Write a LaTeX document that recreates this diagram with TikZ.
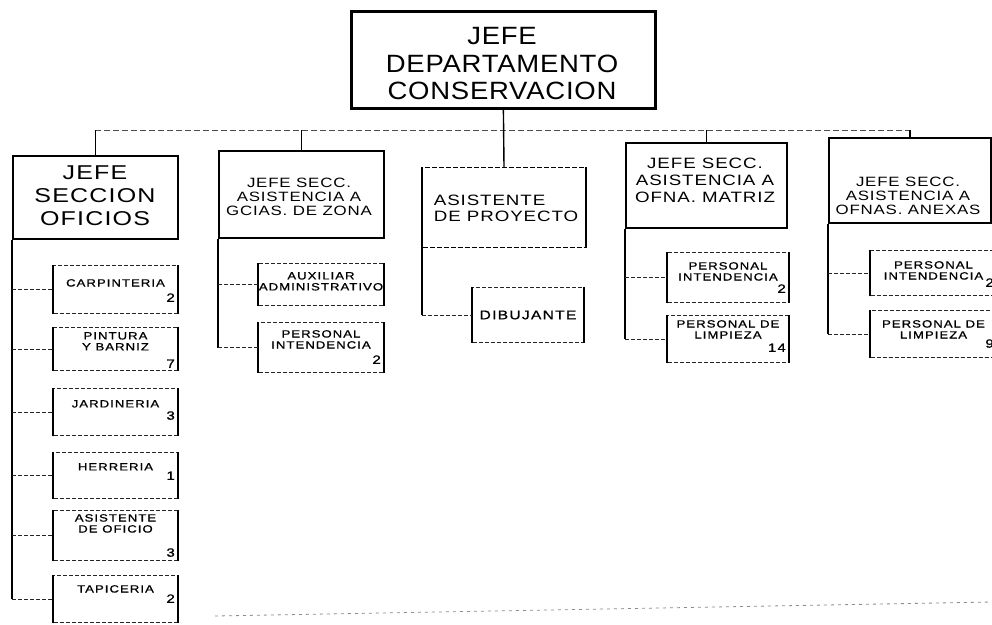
\documentclass[tikz,border=0pt]{standalone}
\usepackage{fontspec}
\usetikzlibrary{calc}
\newfontfamily\topf[FakeStretch=1.1,LetterSpace=3]{Liberation Sans}
\newfontfamily\wf[FakeStretch=1.25,LetterSpace=6]{Liberation Sans}
\newfontfamily\kf[FakeStretch=1.25,LetterSpace=10,FakeBold=1]{Liberation Sans}
\tikzset{
  bigbox/.style={draw=black, line width=#1, rectangle, inner sep=0pt, anchor=north west},
  thinbox/.style={draw=black, line width=1pt, dashed, dash pattern=on 5pt off 2pt, rectangle, inner sep=0pt, anchor=north west},
  kidbox/.style={draw=black!85, line width=1pt, dash pattern=on 4pt off 2pt, rectangle, inner sep=0pt, anchor=north west},
  kidside/.style={draw=black, line width=1.4pt},
  kidtext/.style={inner sep=0pt, align=center, anchor=north, font=\kf\fontsize{10.5}{11}\selectfont},
  kidnum/.style={inner sep=0pt, anchor=south east, font=\kf\fontsize{12}{12}\selectfont},
  spine/.style={draw=black, line width=1.4pt},
  kidlink/.style={draw=black!85, line width=1pt, dash pattern=on 4pt off 2pt},
  bus/.style={draw=black!70, line width=1pt, dash pattern=on 6pt off 3pt},
  drop/.style={draw=black, line width=1.4pt},
  faint/.style={draw=black!45, line width=0.8pt, dash pattern=on 3pt off 4pt},
}
% #1 name, #2 left, #3 top, #4 right, #5 bottom, #6 text, #7 text top offset, #8 number, #9 number bottom offset
\newcommand{\kid}[9]{%
  \node[kidbox, minimum width={#4-#2}, minimum height={#5-#3}] (#1) at (#2,#3) {};
  \draw[kidside] (#1.north west) -- (#1.south west) (#1.north east) -- (#1.south east);
  \node[kidtext] (#1t) at ($(#1.north)+(0,#7)$) {#6};
  \node[kidnum] (#1n) at ($(#1.north east)+(-3,#9)$) {#8};
}
\begin{document}
\begin{tikzpicture}[x=1pt,y=-1pt]
\useasboundingbox (0,0) rectangle (992,624);

% top-level boxes
\node[bigbox=2.8pt, minimum width=304pt, minimum height=97pt] (top) at (350,10) {};
\node[bigbox=1.6pt, minimum width=165pt, minimum height=83pt] (b1) at (12,155) {};
\node[bigbox=1.8pt, minimum width=165pt, minimum height=87pt] (b2) at (218,150) {};
\node[thinbox, minimum width=163pt, minimum height=80pt] (b3) at (422,167) {};
\node[bigbox=2.2pt, minimum width=161pt, minimum height=85pt] (b4) at (625,142) {};
\node[bigbox=1.8pt, minimum width=162pt, minimum height=85pt] (b5) at (828,137) {};
\draw[line width=1.5pt] (b3.north east) -- (b3.south east);
\draw[line width=1.5pt] (b3.north west) -- (b3.south west);

% titles
\node[inner sep=0pt, align=center, font=\topf\fontsize{25}{27.5}\selectfont] (topt) at (502,64) {JEFE\\DEPARTAMENTO\\CONSERVACION};
\node[inner sep=0pt, align=center, font=\wf\fontsize{20}{23}\selectfont] (b1t) at (95,196) {JEFE\\SECCION\\OFICIOS};
\node[inner sep=0pt, align=center, font=\wf\fontsize{13.5}{14}\selectfont] (b2t) at (299,197) {JEFE SECC.\\ASISTENCIA A\\GCIAS. DE ZONA};
\node[inner sep=0pt, align=left, font=\wf\fontsize{15}{16}\selectfont] (b3t) at (506,208) {ASISTENTE\\DE PROYECTO};
\node[inner sep=0pt, align=center, font=\wf\fontsize{15}{17}\selectfont] (b4t) at (705,180) {JEFE SECC.\\ASISTENCIA A\\OFNA. MATRIZ};
\node[inner sep=0pt, align=center, font=\wf\fontsize{13.5}{14}\selectfont] (b5t) at (908,196) {JEFE SECC.\\ASISTENCIA A\\OFNAS. ANEXAS};

% bus
\coordinate (busL) at (95,130);
\draw[bus] (b1.north |- busL) -- (b5.north |- busL);
\draw[drop] (top.south) -- (b3.north);
\draw[drop] (b1.north |- busL) -- (b1.north);
\draw[drop] (b2.north |- busL) -- (b2.north);
\draw[drop] (b4.north |- busL) -- (b4.north);
\draw[drop] (b5.north |- busL) -- (b5.north);

% column 1
\kid{c1}{53}{265}{177}{313}{CARPINTERIA}{14}{2}{37}
\kid{c2}{53}{327}{177}{370}{PINTURA\\Y BARNIZ}{5}{7}{41}
\kid{c3}{53}{388}{177}{435}{JARDINERIA}{12}{3}{32}
\kid{c4}{53}{452}{177}{498}{HERRERIA}{11}{1}{28}
\kid{c5}{53}{510}{177}{560}{ASISTENTE\\DE OFICIO}{4}{3}{47}
\kid{c6}{53}{575}{177}{622}{TAPICERIA}{10}{2}{28}
\draw[spine] (b1.south west) -- (b1.south west |- c6.west);
\foreach \k in {c1,c2,c3,c4,c5,c6} \draw[kidlink] (b1.south west |- \k.west) -- (\k.west);

% column 2
\kid{d1}{258}{263}{383}{305}{AUXILIAR\\ADMINISTRATIVO}{9}{}{36}
\kid{d2}{258}{322}{383}{372}{PERSONAL\\INTENDENCIA}{8}{2}{42}
\draw[spine] (b2.south west) -- (b2.south west |- d2.west);
\foreach \k in {d1,d2} \draw[kidlink] (b2.south west |- \k.west) -- (\k.west);

% column 3
\node[kidbox, minimum width=111pt, minimum height=55pt] (e1) at (472,287) {};
\draw[kidside] (e1.north west) -- (e1.south west) (e1.north east) -- (e1.south east);
\node[inner sep=0pt, font=\kf\fontsize{12.5}{13}\selectfont] (e1t) at (e1.center) {DIBUJANTE};
\draw[spine] (b3.south west) -- (b3.south west |- e1.west);
\draw[kidlink] (b3.south west |- e1.west) -- (e1.west);

% column 4
\kid{f1}{667}{252}{788}{302}{PERSONAL\\INTENDENCIA}{10}{2}{41}
\kid{f2}{667}{315}{788}{362}{PERSONAL DE\\LIMPIEZA}{5}{14}{37}
\draw[spine] (b4.south west) -- (b4.south west |- f2.west);
\foreach \k in {f1,f2} \draw[kidlink] (b4.south west |- \k.west) -- (\k.west);

% column 5
\kid{g1}{870}{250}{996}{295}{PERSONAL\\INTENDENCIA}{11}{2}{37}
\kid{g2}{870}{310}{996}{357}{PERSONAL DE\\LIMPIEZA}{10}{9}{38}
\draw[spine] (b5.south west) -- (b5.south west |- g2.west);
\foreach \k in {g1,g2} \draw[kidlink] (b5.south west |- \k.west) -- (\k.west);

% faint scan line at the bottom
\coordinate (ftL) at (215,616);
\coordinate (ftR) at (992,602);
\draw[faint] (ftL) -- (ftR);
\end{tikzpicture}
\end{document}
